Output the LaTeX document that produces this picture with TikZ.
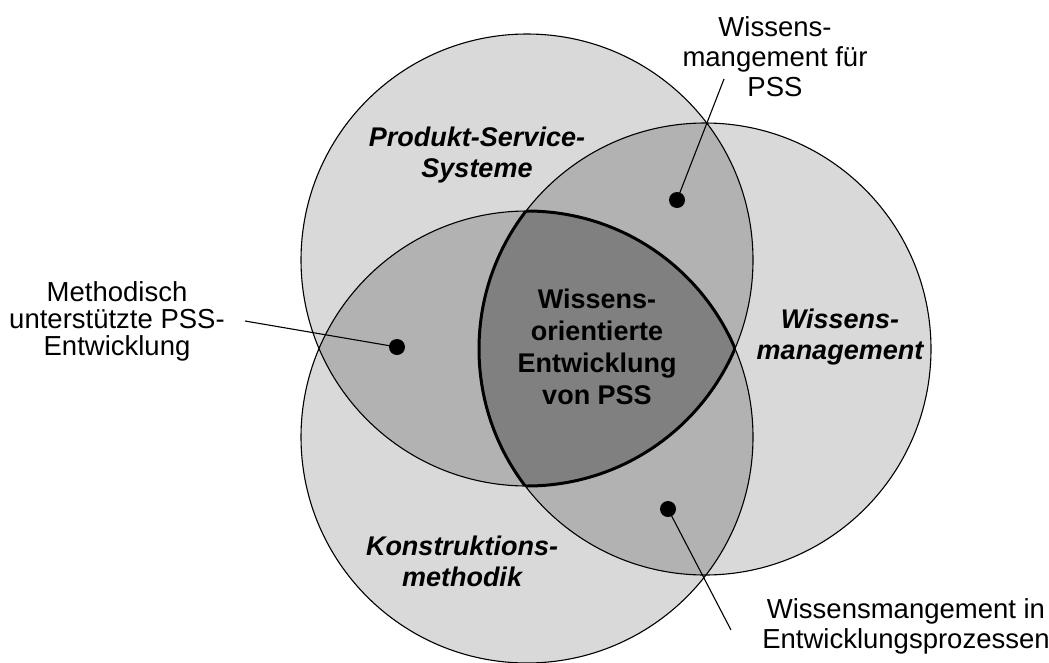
\documentclass[tikz,border=0pt]{standalone}
\usepackage{fontspec}
\setmainfont{Liberation Sans}
\definecolor{shadeone}{RGB}{217,217,217}
\definecolor{shadetwo}{RGB}{178,178,178}
\definecolor{shadethree}{RGB}{128,128,128}
\begin{document}
\begin{tikzpicture}[x=1pt,y=-1pt,
  ring/.style={draw=black, line width=1.1pt},
  core/.style={draw=black, line width=3pt},
  lead/.style={draw=black, line width=1.1pt},
  dot/.style={circle, fill=black, minimum size=16pt, inner sep=0pt},
  plain/.style={align=center, inner sep=0pt, font=\fontsize{27.5}{30}\selectfont},
  field/.style={align=center, inner sep=0pt, font=\fontsize{27}{31}\selectfont\bfseries\itshape},
  centre/.style={align=center, inner sep=0pt, font=\fontsize{27}{32}\selectfont\bfseries}]
\useasboundingbox (0,0) rectangle (1049,662);

% circle centres: A = Produkt-Service-Systeme, B = Wissensmanagement, C = Konstruktionsmethodik
\coordinate (cA) at (527,260);
\coordinate (cB) at (705,349);
\coordinate (cC) at (527,437);
\def\rad{226}

% single areas
\fill[shadeone] (cA) circle[radius=\rad];
\fill[shadeone] (cB) circle[radius=\rad];
\fill[shadeone] (cC) circle[radius=\rad];

% pairwise overlaps
\begin{scope}
  \clip (cA) circle[radius=\rad];
  \fill[shadetwo] (cB) circle[radius=\rad];
  \fill[shadetwo] (cC) circle[radius=\rad];
\end{scope}
\begin{scope}
  \clip (cB) circle[radius=\rad];
  \fill[shadetwo] (cC) circle[radius=\rad];
\end{scope}

% common overlap of all three
\begin{scope}
  \clip (cA) circle[radius=\rad];
  \clip (cB) circle[radius=\rad];
  \fill[shadethree] (cC) circle[radius=\rad];
\end{scope}

% outlines
\draw[ring] (cA) circle[radius=\rad];
\draw[ring] (cB) circle[radius=\rad];
\draw[ring] (cC) circle[radius=\rad];

% heavy border of the common overlap
\begin{scope}
  \clip (cA) circle[radius=\rad];
  \clip (cB) circle[radius=\rad];
  \draw[core] (cC) circle[radius=\rad];
\end{scope}
\begin{scope}
  \clip (cA) circle[radius=\rad];
  \clip (cC) circle[radius=\rad];
  \draw[core] (cB) circle[radius=\rad];
\end{scope}
\begin{scope}
  \clip (cB) circle[radius=\rad];
  \clip (cC) circle[radius=\rad];
  \draw[core] (cA) circle[radius=\rad];
\end{scope}

% area titles
\node[field] (tPSS) at (477,155) {Produkt-Service-\\Systeme};
\node[field] (tWM) at (840,337) {Wissens-\\management};
\node[field] (tKM) at (462,561) {Konstruktions-\\methodik};
\node[centre] (tCore) at (597,347) {Wissens-\\orientierte\\Entwicklung\\von PSS};

% markers in the overlaps
\node[dot] (dAB) at (677,200) {};
\node[dot] (dAC) at (397,347) {};
\node[dot] (dBC) at (668,509) {};

% callout labels
\node[plain] (lAB) at (775,57) {Wissens-\\mangement für\\PSS};
\node[plain, font=\fontsize{27.5}{27}\selectfont] (lAC) at (117,321) {Methodisch\\unterstützte PSS-\\Entwicklung};
\node[plain] (lBC) at (906,626) {Wissensmangement in\\Entwicklungsprozessen};

% leader lines
\coordinate (eAB) at (724,79);
\coordinate (eAC) at (245,321);
\coordinate (eBC) at (731,630);
\draw[lead] (eAB) -- (dAB.center);
\draw[lead] (eAC) -- (dAC.center);
\draw[lead] (eBC) -- (dBC.center);
\end{tikzpicture}
\end{document}
